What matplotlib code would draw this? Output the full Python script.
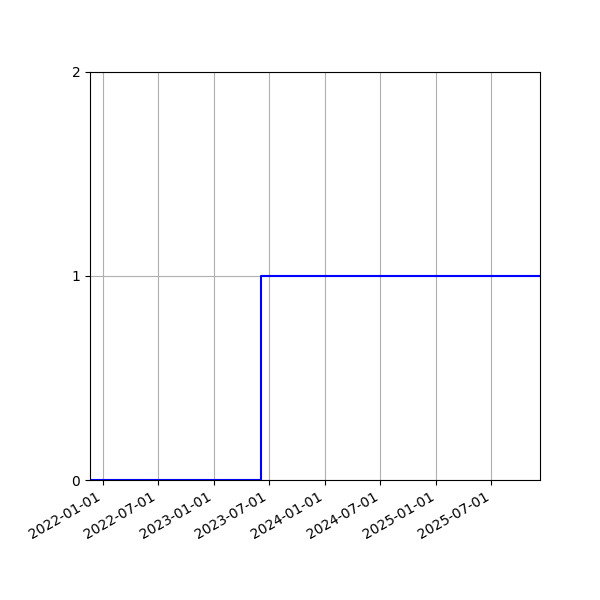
import numpy as np
import matplotlib
matplotlib.use("Agg")
import matplotlib.pyplot as plt
import matplotlib.dates as mdates

# donnees
dates = np.array(["2021-11-19", "2023-06-05", "2025-12-08"], dtype="datetime64[D]")
valeurs = [0, 1, 1]
yticks = [0, 1, 2]

fig, ax = plt.subplots(figsize=(6, 6), dpi=100)
ax.step(dates, valeurs, where="post", color="blue")
ax.set_xlim(dates[0], dates[-1])
ax.set_ylim(0, 2)
ax.set_yticks(yticks)
ax.xaxis.set_major_locator(mdates.MonthLocator(bymonth=[1, 7]))
ax.xaxis.set_major_formatter(mdates.DateFormatter("%Y-%m-%d"))
ax.grid(True)
fig.autofmt_xdate()
ax.set_position([0.15, 0.2, 0.75, 0.68])

fig.savefig("out.png")
